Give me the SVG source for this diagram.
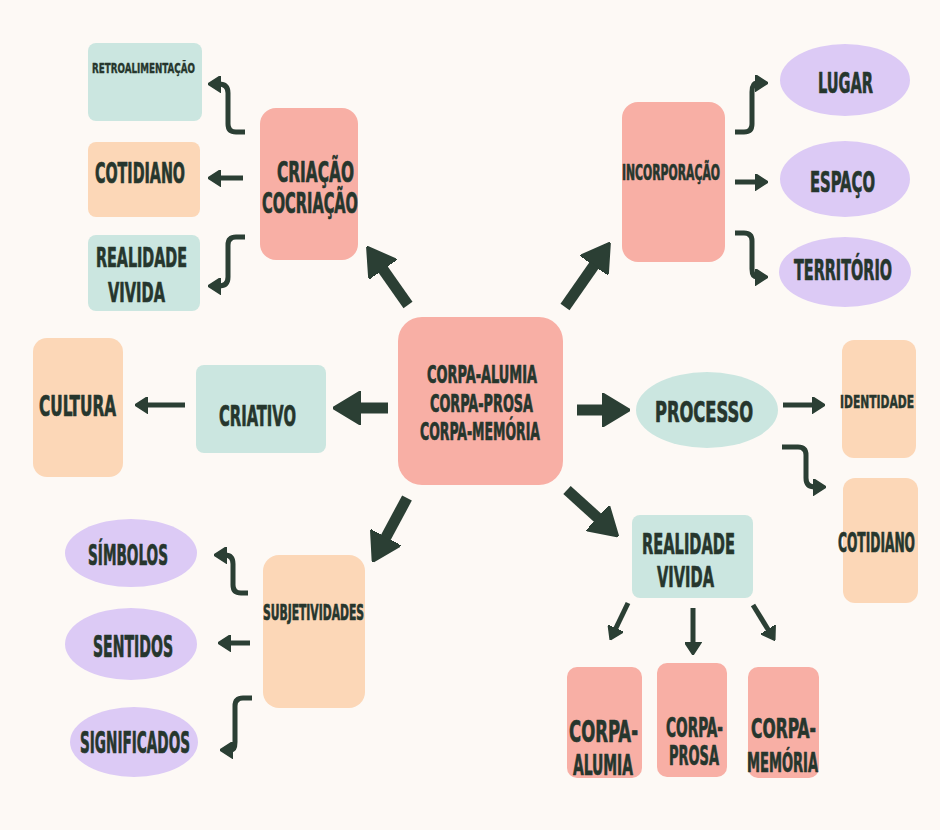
<svg xmlns="http://www.w3.org/2000/svg" width="940" height="830" viewBox="0 0 940 830">
<defs>
<style>
.t{font-family:"Liberation Sans Narrow","DejaVu Sans Condensed","Liberation Sans",sans-serif;font-weight:bold;fill:#26362d;stroke:#26362d;stroke-width:0.7;stroke-linejoin:round}
.teal{fill:#cbe6e0}.peach{fill:#fcd7b7}.pink{fill:#f8afa5}.lav{fill:#dccaf5}
.thin{fill:none;stroke:#2b3f34;stroke-width:5;stroke-linecap:butt;stroke-linejoin:round}
.big{fill:none;stroke:#2b3f34;stroke-width:11;stroke-linecap:butt}
</style>
<marker id="ah" viewBox="0 0 13 17" markerWidth="13" markerHeight="17" refX="2" refY="8.5" orient="auto" markerUnits="userSpaceOnUse">
<path d="M0,0 L13,8.5 L0,17 Z" fill="#2b3f34" stroke="#2b3f34" stroke-width="1.5" stroke-linejoin="round"/>
</marker>
<marker id="bh" viewBox="0 0 28 34" markerWidth="28" markerHeight="34" refX="2" refY="17" orient="auto" markerUnits="userSpaceOnUse">
<path d="M0,0 L28,17 L0,34 Z" fill="#2b3f34" stroke="#2b3f34" stroke-width="2" stroke-linejoin="round"/>
</marker>
</defs>
<rect width="940" height="830" fill="#fdf9f5"/>

<g id="connectors">
<path class="big" marker-end="url(#bh)" d="M388,408 L359,408"/>
<path class="big" marker-end="url(#bh)" d="M577,410 L604,410"/>
<path class="big" marker-end="url(#bh)" d="M408,305 L382,268"/>
<path class="big" marker-end="url(#bh)" d="M565,307 L595,264"/>
<path class="big" marker-end="url(#bh)" d="M407,498 L385,539"/>
<path class="big" marker-end="url(#bh)" d="M567,490 L599,519"/>

<path class="thin" marker-end="url(#ah)" d="M185,405 H146"/>

<path class="thin" marker-end="url(#ah)" d="M245,132 H236 Q228,132 228,124 V93 Q228,84 219,84"/>
<path class="thin" marker-end="url(#ah)" d="M243,178 H219"/>
<path class="thin" marker-end="url(#ah)" d="M245,237 H236 Q228,237 228,245 V277 Q228,286 219,286"/>

<path class="thin" marker-end="url(#ah)" d="M735,132 H744 Q752,132 752,124 V92 Q752,83 757,83"/>
<path class="thin" marker-end="url(#ah)" d="M735,182 H757"/>
<path class="thin" marker-end="url(#ah)" d="M735,233 H744 Q752,233 752,241 V269 Q752,277 757,277"/>

<path class="thin" marker-end="url(#ah)" d="M248,593 H241 Q233,593 233,585 V564 Q233,555 225,555"/>
<path class="thin" marker-end="url(#ah)" d="M250,643 H229"/>
<path class="thin" marker-end="url(#ah)" d="M252,698 H243 Q235,698 235,706 V742 Q235,750 231,750"/>

<path class="thin" marker-end="url(#ah)" d="M783,405 H814"/>
<path class="thin" marker-end="url(#ah)" d="M782,447 H798 Q806,447 806,455 V478 Q806,487 815,487"/>

<path class="thin" marker-end="url(#ah)" d="M628,603 L615,630"/>
<path class="thin" marker-end="url(#ah)" d="M693,608 L693,644"/>
<path class="thin" marker-end="url(#ah)" d="M753,605 L769,631"/>
</g>

<g id="center">
<rect class="pink" x="398" y="317" width="165" height="168" rx="24"/>
<text class="t" font-size="25" x="427" y="383" textLength="110" lengthAdjust="spacingAndGlyphs">CORPA-ALUMIA</text>
<text class="t" font-size="25" x="430" y="412" textLength="103" lengthAdjust="spacingAndGlyphs">CORPA-PROSA</text>
<text class="t" font-size="25" x="420" y="440" textLength="120" lengthAdjust="spacingAndGlyphs">CORPA-MEMÓRIA</text>
</g>

<g id="criacao">
<rect class="pink" x="260" y="108" width="98" height="152" rx="16"/>
<text class="t" font-size="29" x="277" y="182" textLength="77" lengthAdjust="spacingAndGlyphs">CRIAÇÃO</text>
<text class="t" font-size="29" x="262" y="213" textLength="96" lengthAdjust="spacingAndGlyphs">COCRIAÇÃO</text>
</g>
<g id="retroalimentacao">
<rect class="teal" x="88" y="43" width="114" height="78" rx="8"/>
<text class="t" font-size="14" x="92" y="73" textLength="103" lengthAdjust="spacingAndGlyphs" style="stroke-width:0.4">RETROALIMENTAÇÃO</text>
</g>
<g id="cotidiano1">
<rect class="peach" x="88" y="142" width="112" height="75" rx="8"/>
<text class="t" font-size="28" x="95" y="183" textLength="90" lengthAdjust="spacingAndGlyphs">COTIDIANO</text>
</g>
<g id="realidade1">
<rect class="teal" x="88" y="235" width="112" height="76" rx="8"/>
<text class="t" font-size="26" x="96" y="267" textLength="91" lengthAdjust="spacingAndGlyphs">REALIDADE</text>
<text class="t" font-size="26" x="108" y="302" textLength="57" lengthAdjust="spacingAndGlyphs">VIVIDA</text>
</g>

<g id="incorporacao">
<rect class="pink" x="622" y="102" width="103" height="160" rx="16"/>
<text class="t" font-size="21" x="622" y="180" textLength="98" lengthAdjust="spacingAndGlyphs">INCORPORAÇÃO</text>
</g>
<g id="lugar">
<ellipse class="lav" cx="845" cy="80" rx="65" ry="36"/>
<text class="t" font-size="28" x="818" y="93" textLength="55" lengthAdjust="spacingAndGlyphs">LUGAR</text>
</g>
<g id="espaco">
<ellipse class="lav" cx="845" cy="179" rx="65" ry="38"/>
<text class="t" font-size="28" x="810" y="192" textLength="65" lengthAdjust="spacingAndGlyphs">ESPAÇO</text>
</g>
<g id="territorio">
<ellipse class="lav" cx="845" cy="272" rx="66" ry="35"/>
<text class="t" font-size="28" x="794" y="280" textLength="98" lengthAdjust="spacingAndGlyphs">TERRITÓRIO</text>
</g>

<g id="cultura">
<rect class="peach" x="33" y="338" width="90" height="139" rx="14"/>
<text class="t" font-size="29" x="39" y="416" textLength="77" lengthAdjust="spacingAndGlyphs">CULTURA</text>
</g>
<g id="criativo">
<rect class="teal" x="196" y="365" width="130" height="88" rx="8"/>
<text class="t" font-size="29" x="219" y="426" textLength="77" lengthAdjust="spacingAndGlyphs">CRIATIVO</text>
</g>

<g id="processo">
<ellipse class="teal" cx="707" cy="410" rx="71" ry="38"/>
<text class="t" font-size="28" x="655" y="422" textLength="98" lengthAdjust="spacingAndGlyphs">PROCESSO</text>
</g>
<g id="identidade">
<rect class="peach" x="842" y="340" width="74" height="118" rx="12"/>
<text class="t" font-size="18" x="840" y="408" textLength="74" lengthAdjust="spacingAndGlyphs" style="stroke-width:0.5">IDENTIDADE</text>
</g>
<g id="cotidiano2">
<rect class="peach" x="843" y="478" width="75" height="125" rx="12"/>
<text class="t" font-size="26" x="838" y="552" textLength="77" lengthAdjust="spacingAndGlyphs">COTIDIANO</text>
</g>

<g id="realidade2">
<rect class="teal" x="632" y="515" width="121" height="83" rx="8"/>
<text class="t" font-size="29" x="642" y="554" textLength="93" lengthAdjust="spacingAndGlyphs">REALIDADE</text>
<text class="t" font-size="29" x="657" y="587" textLength="57" lengthAdjust="spacingAndGlyphs">VIVIDA</text>
</g>
<g id="corpa-alumia">
<rect class="pink" x="567" y="667" width="75" height="111" rx="10"/>
<text class="t" font-size="31" x="569" y="742" textLength="69" lengthAdjust="spacingAndGlyphs">CORPA-</text>
<text class="t" font-size="29" x="573" y="775" textLength="60" lengthAdjust="spacingAndGlyphs">ALUMIA</text>
</g>
<g id="corpa-prosa">
<rect class="pink" x="657" y="663" width="70" height="114" rx="10"/>
<text class="t" font-size="26" x="666" y="737" textLength="57" lengthAdjust="spacingAndGlyphs">CORPA-</text>
<text class="t" font-size="26" x="669" y="765" textLength="50" lengthAdjust="spacingAndGlyphs">PROSA</text>
</g>
<g id="corpa-memoria">
<rect class="pink" x="748" y="667" width="71" height="111" rx="10"/>
<text class="t" font-size="27" x="751" y="738" textLength="65" lengthAdjust="spacingAndGlyphs">CORPA-</text>
<text class="t" font-size="26" x="747" y="772" textLength="71" lengthAdjust="spacingAndGlyphs">MEMÓRIA</text>
</g>

<g id="subjetividades">
<rect class="peach" x="263" y="555" width="102" height="153" rx="16"/>
<text class="t" font-size="21" x="263" y="620" textLength="101" lengthAdjust="spacingAndGlyphs">SUBJETIVIDADES</text>
</g>
<g id="simbolos">
<ellipse class="lav" cx="131" cy="553" rx="66" ry="34"/>
<text class="t" font-size="28" x="88" y="565" textLength="80" lengthAdjust="spacingAndGlyphs">SÍMBOLOS</text>
</g>
<g id="sentidos">
<ellipse class="lav" cx="131" cy="644" rx="66" ry="36"/>
<text class="t" font-size="30" x="93" y="657" textLength="80" lengthAdjust="spacingAndGlyphs">SENTIDOS</text>
</g>
<g id="significados">
<ellipse class="lav" cx="134" cy="742" rx="64" ry="35"/>
<text class="t" font-size="31" x="80" y="753" textLength="110" lengthAdjust="spacingAndGlyphs">SIGNIFICADOS</text>
</g>
</svg>
